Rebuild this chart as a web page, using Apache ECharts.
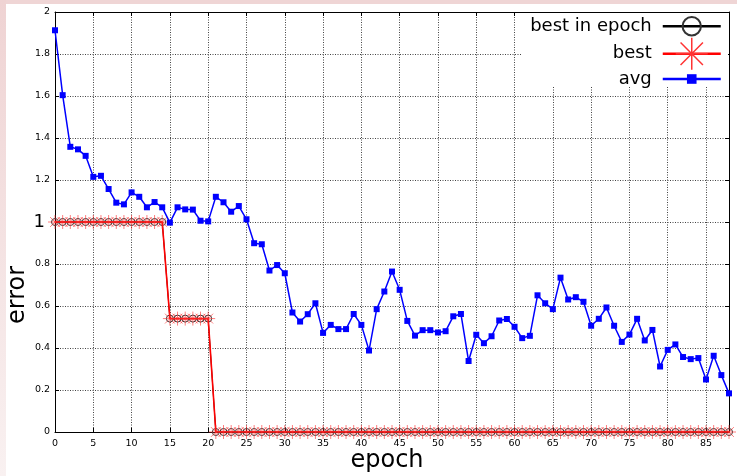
<!DOCTYPE html>
<html>
<head>
<meta charset="utf-8">
<script src="https://cdn.jsdelivr.net/npm/echarts@6/dist/echarts.min.js"></script>
<style>
html,body{margin:0;padding:0;background:#fff;}
#wrap{position:relative;width:737px;height:476px;overflow:hidden;}
#topStrip{position:absolute;left:0;top:0;width:737px;height:4px;background:#efd5d5;}
#leftStrip{position:absolute;left:0;top:0;width:6px;height:476px;background:linear-gradient(#efd3d3,#f9f1f1);}
#chart{position:absolute;left:0;top:0;width:737px;height:476px;}
</style>
</head>
<body>
<div id="wrap">
<div id="topStrip"></div>
<div id="leftStrip"></div>
<div id="chart"></div>
</div>
<script>
// ---- data ----
const avg = [
  1.913,1.604,1.358,1.346,1.315,1.215,1.220,1.157,1.092,1.084,
  1.141,1.120,1.070,1.095,1.070,0.997,1.070,1.060,1.059,1.006,
  1.003,1.120,1.094,1.049,1.076,1.013,0.899,0.894,0.769,0.795,
  0.756,0.569,0.526,0.561,0.613,0.472,0.510,0.490,0.490,0.562,
  0.510,0.388,0.585,0.669,0.764,0.677,0.529,0.459,0.485,0.485,
  0.474,0.480,0.551,0.562,0.338,0.463,0.423,0.456,0.531,0.538,
  0.501,0.447,0.458,0.651,0.613,0.585,0.735,0.631,0.642,0.620,
  0.506,0.539,0.593,0.506,0.429,0.464,0.539,0.436,0.486,0.312,
  0.391,0.417,0.357,0.347,0.352,0.250,0.363,0.271,0.184
];
const best = [
  1,1,1,1,1,1,1,1,1,1,
  1,1,1,1,1,0.54,0.54,0.54,0.54,0.54,
  0.54,0,0,0,0,0,0,0,0,0,
  0,0,0,0,0,0,0,0,0,0,
  0,0,0,0,0,0,0,0,0,0,
  0,0,0,0,0,0,0,0,0,0,
  0,0,0,0,0,0,0,0,0,0,
  0,0,0,0,0,0,0,0,0,0,
  0,0,0,0,0,0,0,0,0
];
const bestInEpoch = [
  1,1,1,1,1,1,1,1,1,1,
  1,1,1,1,1,0.54,0.54,0.54,0.54,0.54,
  0.54,0,0,0,0,0,0,0,0,0,
  0,0,0,0,0,0,0,0,0,0,
  0,0,0,0,0,0,0,0,0,0,
  0,0,0,0,0,0,0,0,0,0,
  0,0,0,0,0,0,0,0,0,0,
  0,0,0,0,0,0,0,0,0,0,
  0,0,0,0,0,0,0,0,0
];
const xTicks = [0,5,10,15,20,25,30,35,40,45,50,55,60,65,70,75,80,85];
const yTicks = [0,0.2,0.4,0.6,0.8,1,1.2,1.4,1.6,1.8,2];
const xMax = 88;
const seriesNames = ['best in epoch','best','avg'];
const xTitle = 'epoch';
const yTitle = 'error';

const toPairs = arr => arr.map((v,i)=>[i,v]);
const FONT = 'DejaVu Sans';
const ASTER = 'path://M0,50 L100,50 M50,0 L50,100 M15,15 L85,85 M85,15 L15,85';

const chart = echarts.init(document.getElementById('chart'), null, {renderer:'canvas'});

const gridLine = {show:true, lineStyle:{color:'#444', type:[1,1.5], width:1}};
const legendText = {fontFamily:FONT, fontSize:18, color:'#000', padding:[0,6,0,0]};
const option = {
  backgroundColor:'transparent',
  animation:false,
  grid:{left:55, right:8, top:12, bottom:44, show:false},
  xAxis:[{
    type:'value', min:0, max:xMax, interval:5,
    axisLine:{show:true, lineStyle:{color:'#000', width:1}},
    axisTick:{show:true, inside:true, length:4, lineStyle:{color:'#000'}},
    axisLabel:{color:'#000', fontFamily:FONT, fontSize:9.5, margin:7,
      formatter:v => xTicks.indexOf(v) >= 0 ? String(v) : ''},
    splitLine:gridLine
  },{
    type:'value', min:0, max:xMax, interval:5, position:'top',
    axisLine:{show:true, onZero:false, lineStyle:{color:'#000', width:1}},
    axisTick:{show:true, inside:true, length:4, lineStyle:{color:'#000'}},
    axisLabel:{show:false}, splitLine:{show:false}
  }],
  yAxis:[{
    type:'value', min:0, max:2, interval:0.2,
    axisLine:{show:true, lineStyle:{color:'#000', width:1}},
    axisTick:{show:true, inside:true, length:4, lineStyle:{color:'#000'}},
    axisLabel:{color:'#000', fontFamily:FONT, fontSize:9.5, margin:5,
      formatter:v => {
        const t = yTicks.find(x => Math.abs(x - v) < 1e-6);
        if (t === undefined) return '';
        if (t === 1) return '{big|1}';
        return String(t);
      },
      rich:{big:{fontSize:18, fontFamily:FONT, color:'#000', padding:[0,5,0,0]}}
    },
    splitLine:gridLine
  },{
    type:'value', min:0, max:2, interval:0.2, position:'right',
    axisLine:{show:true, onZero:false, lineStyle:{color:'#000', width:1}},
    axisTick:{show:true, inside:true, length:4, lineStyle:{color:'#000'}},
    axisLabel:{show:false}, splitLine:{show:false}
  }],
  legend:[
    {data:[seriesNames[0]], right:15, top:16, orient:'vertical', align:'right',
     itemWidth:58, itemHeight:23, padding:0, textStyle:legendText, lineStyle:{width:2.5}},
    {data:[{name:seriesNames[1], itemStyle:{color:'#f00', borderColor:'#f33', borderWidth:1.5}}],
     right:15, top:37, orient:'vertical', align:'right',
     itemWidth:58, itemHeight:40, padding:0, textStyle:legendText, lineStyle:{width:2.5}},
    {data:[seriesNames[2]], right:15, top:70, orient:'vertical', align:'right',
     itemWidth:58, itemHeight:12, padding:0, textStyle:legendText, lineStyle:{width:2.5}}
  ],
  graphic:[
    {type:'rect', z:3, shape:{x:522, y:13, width:206, height:73}, style:{fill:'#fff'}, silent:true},
    {type:'text', z:10, x:387, y:461, style:{text:xTitle, font:'24px "DejaVu Sans"', fill:'#000', align:'center', verticalAlign:'middle'}},
    {type:'text', z:10, x:18, y:295, rotation:Math.PI/2, style:{text:yTitle, font:'24px "DejaVu Sans"', fill:'#000', align:'center', verticalAlign:'middle'}}
  ],
  series:[
    {name:seriesNames[0], type:'line', data:toPairs(bestInEpoch), z:3,
     symbol:'circle', symbolSize:7,
     lineStyle:{color:'#000', width:1},
     itemStyle:{color:'rgba(255,255,255,0)', borderColor:'#333', borderWidth:1},
     emphasis:{disabled:true}},
    {name:seriesNames[1], type:'line', data:toPairs(best), z:4,
     symbol:ASTER, symbolSize:14, symbolKeepAspect:true,
     lineStyle:{color:'#f00', width:1.6},
     itemStyle:{color:'rgba(255,0,0,0.5)', borderColor:'rgba(255,40,40,0.6)', borderWidth:1},
     emphasis:{disabled:true}},
    {name:seriesNames[2], type:'line', data:toPairs(avg), z:5,
     symbol:'rect', symbolSize:6,
     lineStyle:{color:'#00f', width:1.5},
     itemStyle:{color:'#00f'},
     emphasis:{disabled:true}}
  ]
};
chart.setOption(option);
</script>
</body>
</html>
